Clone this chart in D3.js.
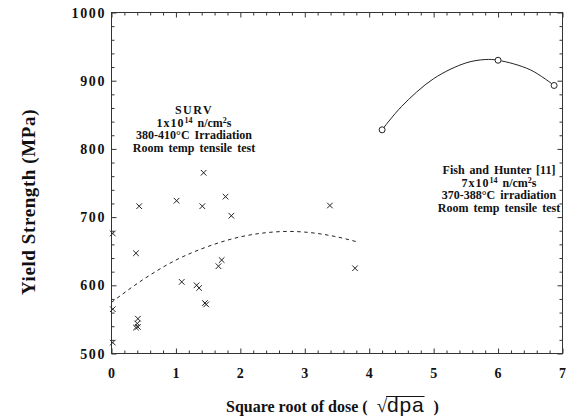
<!DOCTYPE html>
<html>
<head>
<meta charset="utf-8">
<script src="https://cdn.jsdelivr.net/npm/d3@7"></script>
<style>
  html, body { margin: 0; padding: 0; background: #fff; }
  svg { display: block; }
  text { font-family: "Liberation Serif", "Times New Roman", serif; fill: #111; }
</style>
</head>
<body>
<svg id="chart" width="566" height="420"></svg>
<script>
// SURV measurements: square root of dose vs yield strength (MPa)
const survDose = [0.02, 0.02, 0.02, 0.38, 0.43, 0.41, 0.40, 0.38, 0.41,
                  1.01, 1.09, 1.32, 1.36, 1.41, 1.43, 1.45, 1.47,
                  1.66, 1.71, 1.77, 1.86, 3.39, 3.78];
const survYield = [676, 565, 516, 647, 716, 551, 544, 538, 539,
                   724, 605, 600, 596, 716, 765, 574, 572,
                   628, 637, 730, 702, 717, 625];

// Trend curve drawn dashed through the SURV data
const trendDose  = [0, 0.5, 1, 1.5, 2, 2.5, 2.75, 3, 3.5, 3.8];
const trendYield = [575, 609, 637, 657, 671, 678, 679, 678, 671, 664];

// Fish and Hunter [11] data points
const fhDose  = [4.2, 6.0, 6.87];
const fhYield = [828, 930, 893];
// Smooth curve through the Fish and Hunter data
const fhCurveDose  = [4.2, 4.5, 5.0, 5.5, 5.8, 6.0, 6.5, 6.87];
const fhCurveYield = [828, 862, 903, 926, 931, 930, 916, 893];

const xTicks = [0, 1, 2, 3, 4, 5, 6, 7];
const yTicks = [500, 600, 700, 800, 900, 1000];

const svg = d3.select("#chart");
const pL = 111.5, pR = 562.5, pT = 12.5, pB = 353.5;

const x = d3.scaleLinear().domain([0, 7]).range([pL, pR]);
const y = d3.scaleLinear().domain([500, 1000]).range([pB, pT]);

const xMinor = d3.range(0, 7.001, 0.2).map(v => +v.toFixed(1)).filter(v => !xTicks.includes(v));
const yMinor = d3.range(500, 1001, 20).filter(v => !yTicks.includes(v));

const frameColor = "#333";

function styleAxis(g) {
  g.select(".domain").remove();
  g.selectAll(".tick line").attr("stroke", frameColor).attr("stroke-width", 1);
}

// Major ticks (all four sides, pointing inward)
svg.append("g").attr("transform", `translate(0,${pB})`)
  .call(d3.axisBottom(x).tickValues(xTicks).tickSize(-5).tickFormat(""))
  .call(styleAxis);
svg.append("g").attr("transform", `translate(0,${pT})`)
  .call(d3.axisTop(x).tickValues(xTicks).tickSize(-5).tickFormat(""))
  .call(styleAxis);
svg.append("g").attr("transform", `translate(${pL},0)`)
  .call(d3.axisLeft(y).tickValues(yTicks).tickSize(-5).tickFormat(""))
  .call(styleAxis);
svg.append("g").attr("transform", `translate(${pR},0)`)
  .call(d3.axisRight(y).tickValues(yTicks).tickSize(-5).tickFormat(""))
  .call(styleAxis);

// Minor ticks
svg.append("g").attr("transform", `translate(0,${pB})`)
  .call(d3.axisBottom(x).tickValues(xMinor).tickSize(-3).tickFormat(""))
  .call(styleAxis);
svg.append("g").attr("transform", `translate(0,${pT})`)
  .call(d3.axisTop(x).tickValues(xMinor).tickSize(-3).tickFormat(""))
  .call(styleAxis);
svg.append("g").attr("transform", `translate(${pL},0)`)
  .call(d3.axisLeft(y).tickValues(yMinor).tickSize(-3).tickFormat(""))
  .call(styleAxis);
svg.append("g").attr("transform", `translate(${pR},0)`)
  .call(d3.axisRight(y).tickValues(yMinor).tickSize(-3).tickFormat(""))
  .call(styleAxis);

// Frame
svg.append("rect")
  .attr("x", pL).attr("y", pT)
  .attr("width", pR - pL).attr("height", pB - pT)
  .attr("fill", "none").attr("stroke", frameColor).attr("stroke-width", 1);

// Tick labels
svg.append("g").selectAll("text").data(xTicks).join("text")
  .attr("x", d => x(d)).attr("y", 378)
  .attr("text-anchor", "middle")
  .attr("font-size", 14).attr("font-weight", "bold")
  .text(d => d);

svg.append("g").selectAll("text").data(yTicks).join("text")
  .attr("x", 106).attr("y", d => y(d) + 5)
  .attr("text-anchor", "end")
  .attr("font-size", 14).attr("font-weight", "bold")
  .attr("letter-spacing", 1.6)
  .text(d => d);

// Axis titles
svg.append("text")
  .attr("transform", "translate(35,202) rotate(-90)")
  .attr("text-anchor", "middle")
  .attr("font-size", 19).attr("font-weight", "bold")
  .attr("letter-spacing", 0.6)
  .text("Yield Strength (MPa)");

const xt = svg.append("text")
  .attr("x", 226).attr("y", 412)
  .attr("font-size", 16).attr("font-weight", "bold");
xt.append("tspan").text("Square root of dose (");
xt.append("tspan").attr("dx", 9).attr("font-weight", "normal").attr("font-size", 19).text("\u221A");
xt.append("tspan")
  .attr("font-family", "'Liberation Sans', Arial, sans-serif")
  .attr("font-weight", "normal").attr("font-size", 21).attr("letter-spacing", 0.8)
  .text("dpa");
xt.append("tspan").attr("dx", 9).text(")");
try {
  // vinculum over "dpa"
  const node = xt.node();
  const full = node.textContent;
  const iRad = full.indexOf("\u221A");
  const iD = full.indexOf("dpa");
  const ext = node.getExtentOfChar(iRad);
  const endA = node.getEndPositionOfChar(iD + 2);
  svg.append("line")
    .attr("x1", ext.x + ext.width - 1).attr("x2", endA.x)
    .attr("y1", ext.y + 1.5).attr("y2", ext.y + 1.5)
    .attr("stroke", "#111").attr("stroke-width", 1);
} catch (e) { /* no glyph metrics available */ }

// Dashed trend curve
const trendPts = trendDose.map((d, i) => [d, trendYield[i]]);
svg.append("path")
  .datum(trendPts)
  .attr("fill", "none").attr("stroke", "#222").attr("stroke-width", 1)
  .attr("stroke-dasharray", "3.5,3.5")
  .attr("d", d3.line().x(d => x(d[0])).y(d => y(d[1])).curve(d3.curveMonotoneX));

// Fish and Hunter curve
const fhPts = fhCurveDose.map((d, i) => [d, fhCurveYield[i]]);
svg.append("path")
  .datum(fhPts)
  .attr("fill", "none").attr("stroke", "#222").attr("stroke-width", 1)
  .attr("d", d3.line().x(d => x(d[0])).y(d => y(d[1])).curve(d3.curveCatmullRom));

// SURV markers (crosses)
const s = 2.8;
svg.append("g").selectAll("path").data(survDose.map((d, i) => [d, survYield[i]])).join("path")
  .attr("transform", d => `translate(${x(d[0])},${y(d[1])})`)
  .attr("d", `M${-s},${-s}L${s},${s}M${-s},${s}L${s},${-s}`)
  .attr("stroke", "#222").attr("stroke-width", 1).attr("fill", "none");

// Fish and Hunter markers (open circles)
svg.append("g").selectAll("circle").data(fhDose.map((d, i) => [d, fhYield[i]])).join("circle")
  .attr("cx", d => x(d[0])).attr("cy", d => y(d[1])).attr("r", 3)
  .attr("fill", "#fff").attr("stroke", "#222").attr("stroke-width", 1);

// Annotation blocks
function block(cx, y0, lines) {
  const g = svg.append("g");
  lines.forEach((ln, i) => {
    const t = g.append("text")
      .attr("x", cx).attr("y", y0 + i * 12.5)
      .attr("text-anchor", "middle")
      .attr("font-size", 12).attr("font-weight", "bold")
      .attr("word-spacing", 2);
    ln.forEach(part => {
      const ts = t.append("tspan").text(part.t);
      if (part.sup) ts.attr("font-size", 8).attr("dy", -4);
      if (part.back) ts.attr("dy", 4);
      if (part.ls) ts.attr("letter-spacing", part.ls);
    });
  });
}

block(194, 114, [
  [{ t: "SURV", ls: 1.5 }],
  [{ t: "1x10", ls: 1 }, { t: "14", sup: true }, { t: " n/cm", back: true }, { t: "2", sup: true }, { t: "s", back: true }],
  [{ t: "380-410°C Irradiation" }],
  [{ t: "Room temp tensile test" }]
]);

block(499, 174, [
  [{ t: "Fish and Hunter [11]" }],
  [{ t: "7x10", ls: 1 }, { t: "14", sup: true }, { t: " n/cm", back: true }, { t: "2", sup: true }, { t: "s", back: true }],
  [{ t: "370-388°C irradiation" }],
  [{ t: "Room temp tensile test" }]
]);
</script>
</body>
</html>
